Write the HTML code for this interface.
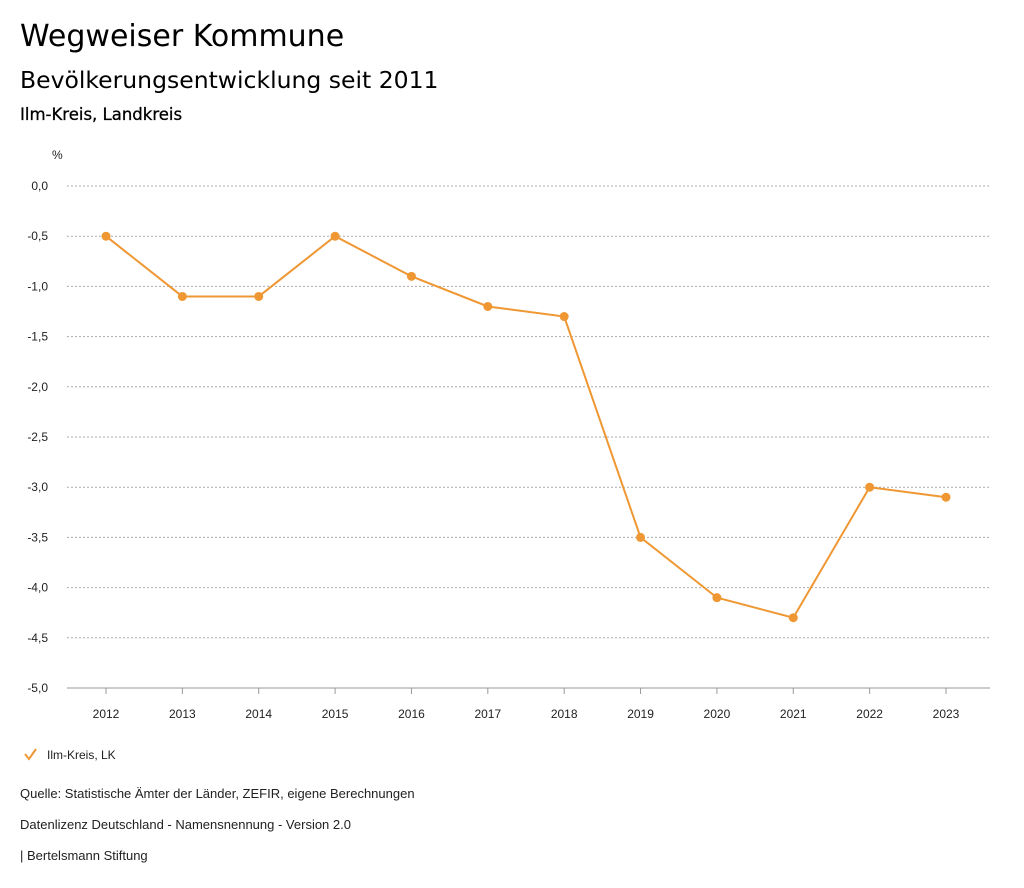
<!DOCTYPE html>
<html><head><meta charset="utf-8">
<style>
body{margin:0;background:#fff;font-family:"Liberation Sans",sans-serif;}
.t1{position:absolute;left:20px;top:19px;font-size:30px;color:#000;font-family:"DejaVu Sans",sans-serif;}
.t2{position:absolute;left:20px;top:66px;font-size:23.5px;color:#000;font-family:"DejaVu Sans",sans-serif;}
.t3{position:absolute;left:20px;top:105px;font-size:16.5px;color:#000;font-family:"DejaVu Sans",sans-serif;-webkit-text-stroke:0.3px #000;}
.f{position:absolute;left:20px;font-size:13px;color:#222;}
</style></head><body>
<div class="t1">Wegweiser Kommune</div>
<div class="t2">Bevölkerungsentwicklung seit 2011</div>
<div class="t3">Ilm-Kreis, Landkreis</div>
<svg id="chart" width="1024" height="888" style="position:absolute;left:0;top:0" xmlns="http://www.w3.org/2000/svg"></svg>
<div class="f" style="top:786px">Quelle: Statistische Ämter der Länder, ZEFIR, eigene Berechnungen</div>
<div class="f" style="top:817px">Datenlizenz Deutschland - Namensnennung - Version 2.0</div>
<div class="f" style="top:848px">| Bertelsmann Stiftung</div>
<script>
const years=["2012","2013","2014","2015","2016","2017","2018","2019","2020","2021","2022","2023"];
const values=[-0.5,-1.1,-1.1,-0.5,-0.9,-1.2,-1.3,-3.5,-4.1,-4.3,-3.0,-3.1];
const yTicks=[0,-0.5,-1,-1.5,-2,-2.5,-3,-3.5,-4,-4.5,-5];
const svg=document.getElementById('chart');
const NS="http://www.w3.org/2000/svg";
const C='#ef9733';
function y(v){return 186+(0-v)/5*502;}
function x(i){return 106+i*(946-106)/(years.length-1);}
function mk(t,a){const e=document.createElementNS(NS,t);for(const k in a)e.setAttribute(k,a[k]);svg.appendChild(e);return e;}
let u=mk('text',{x:52,y:159,'font-size':12,fill:'#222'});u.textContent='%';


yTicks.forEach((v,i)=>{
  const last=i===yTicks.length-1;
  const l=mk('line',{x1:67,x2:990,y1:y(v),y2:y(v),stroke:last?'#999':'#aaa','stroke-width':1,'stroke-dasharray':last?'':'2,2'});
  
  
  const t=mk('text',{x:48,y:y(v)+4,'font-size':12,fill:'#222','text-anchor':'end'});
  t.textContent=v.toFixed(1).replace('.',',');
  
  
});
years.forEach((yr,i)=>{
  const tk=mk('line',{x1:x(i),x2:x(i),y1:688,y2:694,stroke:'#999'});
  
  
  const t=mk('text',{x:x(i),y:718,'font-size':12,fill:'#222','text-anchor':'middle'});
  t.textContent=yr;
  
  
});
const p=mk('polyline',{points:values.map((v,i)=>x(i)+','+y(v)).join(' '),fill:'none',stroke:C,'stroke-width':2});


values.forEach((v,i)=>{
  const c=mk('circle',{cx:x(i),cy:y(v),r:4.5,fill:C});
  
  
});
const lg=mk('polyline',{points:'25,754 29,759 36,749',fill:'none',stroke:C,'stroke-width':2});


const lt=mk('text',{x:47,y:759,'font-size':12,fill:'#222'});
lt.textContent='Ilm-Kreis, LK';


</script>
</body></html>
